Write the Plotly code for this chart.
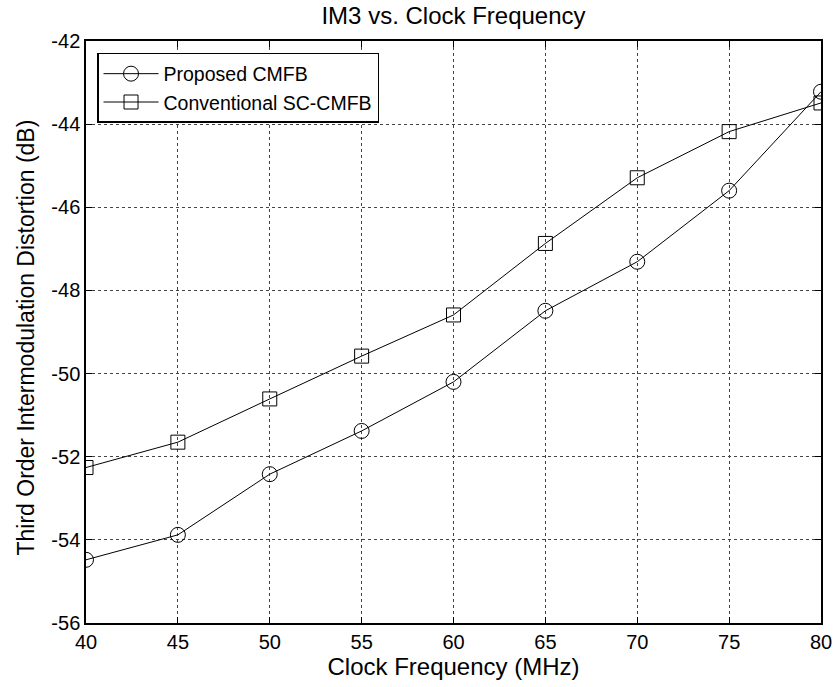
import plotly.graph_objects as go

freq = [40, 45, 50, 55, 60, 65, 70, 75, 80]
proposed = [-54.48, -53.88, -52.42, -51.38, -50.20, -48.49, -47.31, -45.60, -43.22]
conventional = [-52.26, -51.65, -50.61, -49.58, -48.59, -46.87, -45.29, -44.18, -43.49]
series_names = ["Proposed CMFB", "Conventional SC-CMFB"]
x_ticks = [40, 45, 50, 55, 60, 65, 70, 75, 80]
x_tick_labels = ["40", "45", "50", "55", "60", "65", "70", "75", "80"]
y_ticks = [-56, -54, -52, -50, -48, -46, -44, -42]
y_tick_labels = ["-56", "-54", "-52", "-50", "-48", "-46", "-44", "-42"]

FONT = "Liberation Sans, Arial, Helvetica, sans-serif"

fig = go.Figure()
fig.add_trace(go.Scatter(
    x=freq, y=proposed, mode="lines+markers", name=series_names[0],
    line=dict(color="black", width=1),
    marker=dict(symbol="circle-open", size=15, color="black", line=dict(width=1)),
))
fig.add_trace(go.Scatter(
    x=freq, y=conventional, mode="lines+markers", name=series_names[1],
    line=dict(color="black", width=1),
    marker=dict(symbol="square-open", size=14, color="black", line=dict(width=1)),
))

axis_common = dict(
    showline=True, linecolor="black", linewidth=1.5, mirror="ticks",
    ticks="inside", ticklen=6, tickcolor="black", tickwidth=1,
    showgrid=True, gridcolor="#444", griddash="dot", gridwidth=1,
    zeroline=False, automargin=False,
    tickfont=dict(family=FONT, size=20, color="black"),
)

fig.update_layout(
    width=835, height=687,
    margin=dict(l=86, r=14, t=41, b=64),
    paper_bgcolor="white", plot_bgcolor="white",
    font=dict(family=FONT, color="black"),
    title=dict(text="IM3 vs. Clock Frequency", x=0.5, xanchor="center",
               xref="paper", yref="container", y=1 - 16 / 687, yanchor="middle",
               font=dict(family=FONT, size=24, color="black")),
    xaxis=dict(range=[40, 80], tickvals=x_ticks, ticktext=x_tick_labels,
               title=dict(text="Clock Frequency (MHz)", standoff=2,
                          font=dict(family=FONT, size=24, color="black")),
               **axis_common),
    yaxis=dict(range=[-56, -42], tickvals=y_ticks, ticktext=y_tick_labels,
               **axis_common),
    annotations=[dict(
        text="Third Order Intermodulation Distortion (dB)", textangle=-90,
        xref="paper", yref="paper", x=-0.082, y=0.49,
        xanchor="center", yanchor="middle", showarrow=False,
        font=dict(family=FONT, size=23, color="black"),
    )],
    legend=dict(x=0.015, y=0.9794, xanchor="left", yanchor="top",
                bordercolor="black", borderwidth=1.5, bgcolor="white",
                font=dict(family=FONT, size=19.5, color="black"),
                tracegroupgap=0, itemwidth=55),
    showlegend=True,
)

fig.write_html("out.html")
